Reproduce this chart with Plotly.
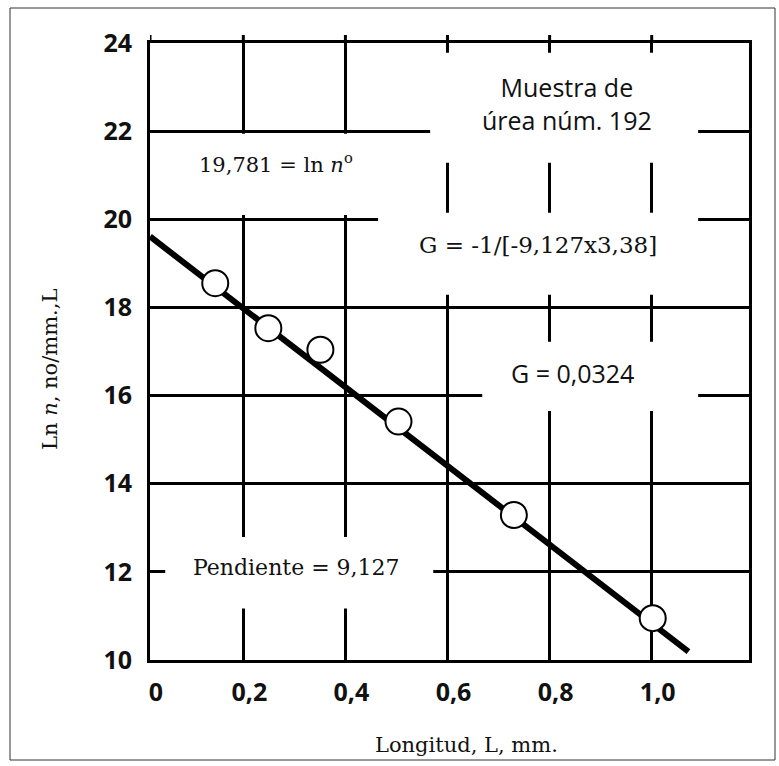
import plotly.graph_objects as go

# ---- data ----
longitud = [0.145, 0.249, 0.351, 0.504, 0.730, 1.002]
ln_n = [18.55, 17.53, 17.04, 15.41, 13.29, 10.95]

fit_x = [0.0172, 1.072]
fit_y = [19.61, 10.19]

x_tick_values = [0, 0.2, 0.4, 0.6, 0.8, 1.0]
x_tick_labels = ["0", "0,2", "0,4", "0,6", "0,8", "1,0"]
y_tick_values = [10, 12, 14, 16, 18, 20, 22, 24]
y_tick_labels = ["10", "12", "14", "16", "18", "20", "22", "24"]

x_range = [0.0172, 1.1906]
y_range = [10, 24]

SERIF = "DejaVu Serif"
SANS = "Open Sans"

fig = go.Figure()

fig.add_trace(go.Scatter(
    x=fit_x, y=fit_y, mode="lines",
    line=dict(color="black", width=6),
    showlegend=False, hoverinfo="skip"))

fig.add_trace(go.Scatter(
    x=longitud, y=ln_n, mode="markers",
    marker=dict(size=26, color="white", line=dict(color="black", width=2)),
    showlegend=False))

tickvals_x = [max(v, x_range[0]) for v in x_tick_values]

fig.update_xaxes(
    range=x_range, tickvals=tickvals_x,
    ticktext=["<b>%s</b>" % t for t in x_tick_labels],
    tickfont=dict(family=SANS, size=25, color="#111"),
    ticks="", ticklabelshift=6, ticklabelstandoff=8,
    showgrid=True, gridcolor="black", gridwidth=3, zeroline=False,
    showline=True, linecolor="black", linewidth=3, mirror=True,
)
fig.update_yaxes(
    range=y_range, tickvals=y_tick_values,
    ticktext=["<b>%s</b>" % t for t in y_tick_labels],
    tickfont=dict(family=SANS, size=25, color="#111"),
    ticks="", ticklabelstandoff=10,
    showgrid=True, gridcolor="black", gridwidth=3, zeroline=False,
    showline=True, linecolor="black", linewidth=3, mirror=True,
)

# white boxes behind the text labels (interrupt the grid)
boxes = [
    (0.566, 1.091, 21.28, 23.78),   # Muestra
    (0.464, 1.091, 18.29, 20.15),   # G = -1/...
    (0.668, 1.091, 15.65, 17.22),   # G = 0,0324
    (0.021, 0.546, 20.10, 21.94),   # 19,781
    (0.047, 0.572, 11.17, 12.79),   # Pendiente
]
shapes = []
for x0, x1, y0, y1 in boxes:
    shapes.append(dict(type="rect", xref="x", yref="y", x0=x0, x1=x1, y0=y0, y1=y1,
                       fillcolor="white", line=dict(width=0), layer="above"))

# small stubs of vertical lines above the top border
for xv in tickvals_x:
    shapes.append(dict(type="line", xref="x", yref="paper", x0=xv, x1=xv, y0=1.0, y1=1.013,
                       line=dict(color="black", width=3), layer="above"))

# outer frame
shapes.append(dict(type="rect", xref="paper", yref="paper",
                   x0=(10 - 150) / 599, x1=(775 - 150) / 599,
                   y0=(660 - 760) / 617, y1=(660 - 8) / 617,
                   line=dict(color="#333", width=1), fillcolor="rgba(0,0,0,0)", layer="below"))

annotations = [
    dict(x=0.834, y=22.63, text="Muestra de<br>úrea núm. 192",
         font=dict(family=SANS, size=25, color="#111")),
    dict(x=0.264, y=21.28, text="19,781 = ln <i>n</i><sup>o</sup>",
         font=dict(family=SERIF, size=21, color="#111")),
    dict(x=0.777, y=19.42, text="G = -1/[-9,127x3,38]",
         font=dict(family=SERIF, size=23, color="#111")),
    dict(x=0.844, y=16.52, text="G = 0,0324",
         font=dict(family=SANS, size=25, color="#111")),
    dict(x=0.305, y=12.09, text="Pendiente = 9,127",
         font=dict(family=SERIF, size=22, color="#111")),
]
for a in annotations:
    a.update(xref="x", yref="y", showarrow=False, xanchor="center", yanchor="middle")

annotations.append(dict(xref="paper", yref="paper", x=(466 - 150) / 599, y=(660 - 745) / 617,
                        text="Longitud, L, mm.", showarrow=False,
                        font=dict(family=SERIF, size=21, color="#111"),
                        xanchor="center", yanchor="middle"))
annotations.append(dict(xref="paper", yref="paper", x=(50 - 150) / 599, y=(660 - 370) / 617,
                        text="Ln <i>n</i>, no/mm.,L", showarrow=False, textangle=-90,
                        font=dict(family=SERIF, size=21, color="#111"),
                        xanchor="center", yanchor="middle"))

fig.update_layout(
    width=779, height=766,
    margin=dict(l=150, r=30, t=43, b=106),
    paper_bgcolor="white", plot_bgcolor="white",
    shapes=shapes, annotations=annotations,
    showlegend=False,
)

fig.write_html("out.html", config={"displayModeBar": False},
               post_script="document.body.style.margin='0';")
